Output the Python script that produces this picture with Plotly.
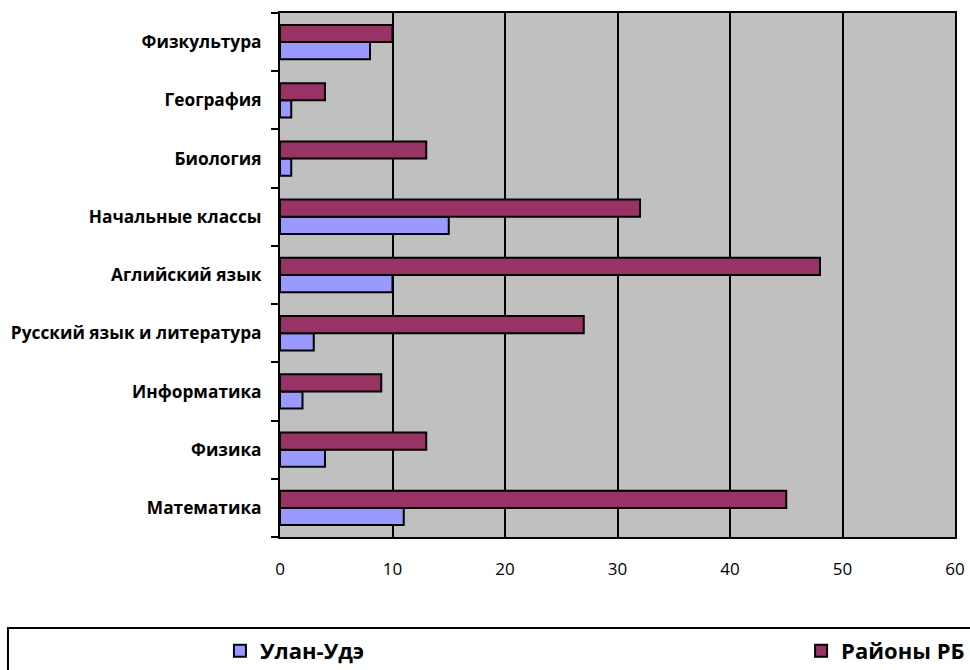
import plotly.graph_objects as go

categories = ["Математика", "Физика", "Информатика", "Русский язык и литература",
              "Аглийский язык", "Начальные классы", "Биология", "География", "Физкультура"]
ulan_ude = [11, 4, 2, 3, 10, 15, 1, 1, 8]
rayony_rb = [45, 13, 9, 27, 48, 32, 13, 4, 10]
series_names = ["Улан-Удэ", "Районы РБ"]
x_ticks = [0, 10, 20, 30, 40, 50, 60]

FONT = "Open Sans, sans-serif"

fig = go.Figure()
fig.add_trace(go.Bar(y=categories, x=ulan_ude, orientation="h", name=series_names[0],
                     legend="legend",
                     marker=dict(color="#9999FF", line=dict(color="black", width=2))))
fig.add_trace(go.Bar(y=categories, x=rayony_rb, orientation="h", name=series_names[1],
                     legend="legend2",
                     marker=dict(color="#993366", line=dict(color="black", width=2))))

legend_common = dict(orientation="h", yanchor="middle", y=-0.2176, xanchor="left",
                     font=dict(size=22, family=FONT, weight="bold", color="black"),
                     bgcolor="rgba(0,0,0,0)", borderwidth=0)

fig.update_layout(
    width=970, height=670,
    margin=dict(l=280, r=15, t=13, b=133, autoexpand=False),
    paper_bgcolor="white", plot_bgcolor="#C0C0C0",
    barmode="group", bargap=0.41, bargroupgap=0,
    font=dict(family=FONT, color="black"),
    showlegend=True,
    legend=dict(x=-0.089, **legend_common),
    legend2=dict(x=0.772, **legend_common),
    shapes=[dict(type="rect", xref="paper", yref="paper",
                 x0=-0.403, x1=1.04, y0=-0.30, y1=-0.1737,
                 line=dict(color="black", width=2), fillcolor="rgba(0,0,0,0)")],
)
fig.update_xaxes(range=[0, 60], tickvals=x_ticks, showgrid=True, gridcolor="black", gridwidth=2,
                 zeroline=False, showline=True, linecolor="black", linewidth=2, mirror=True,
                 ticks="", ticklabelstandoff=16, tickfont=dict(size=17, family=FONT))
fig.update_yaxes(type="category", categoryorder="array", categoryarray=categories,
                 showline=True, linecolor="black", linewidth=2, mirror=True,
                 ticks="outside", tickson="boundaries", ticklen=7, tickwidth=2, tickcolor="black",
                 showgrid=False, ticklabelstandoff=13,
                 tickfont=dict(size=17.3, family=FONT, weight="bold"))

fig.write_html("out.html", config={"displayModeBar": False},
               post_script="document.body.style.margin='0';document.body.style.overflow='hidden';")
